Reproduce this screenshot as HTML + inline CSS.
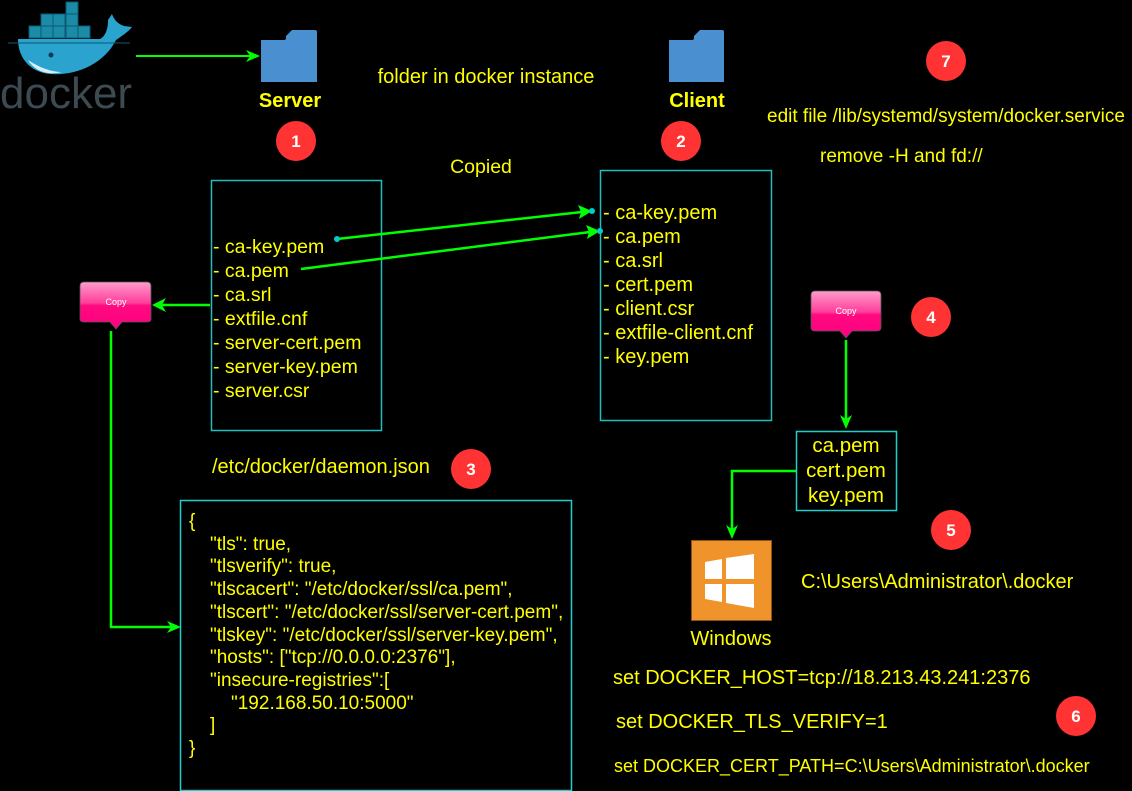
<!DOCTYPE html>
<html><head><meta charset="utf-8"><style>
html,body{margin:0;padding:0;background:#000;}
svg{display:block;}
text{font-family:"Liberation Sans",Arial,sans-serif;fill:#ffff00;}
.w{fill:#fff;font-weight:bold;}
</style></head><body>
<svg width="1132" height="791" viewBox="0 0 1132 791" xmlns="http://www.w3.org/2000/svg">
<defs>
<linearGradient id="pk" x1="0" y1="0" x2="0" y2="1"><stop offset="0" stop-color="#ff9ccc"/><stop offset="0.45" stop-color="#ff3d9a"/><stop offset="0.5" stop-color="#ff0a80"/><stop offset="1" stop-color="#ff0080"/></linearGradient>
</defs>
<rect width="1132" height="791" fill="#000"/>

<!-- docker logo -->
<g>
<g fill="#1b8ba8" stroke="#0b5a70" stroke-width="1">
<rect x="66" y="2" width="12" height="12"/>
<rect x="41" y="14" width="12" height="12"/><rect x="53" y="14" width="12" height="12"/><rect x="66" y="14" width="12" height="12"/>
<rect x="29" y="26" width="12" height="12"/><rect x="41" y="26" width="12" height="12"/><rect x="53" y="26" width="12" height="12"/><rect x="66" y="26" width="12" height="12"/><rect x="78" y="26" width="12" height="12"/>
</g>
<path d="M18,39 L100,39 C106,36 108,28 108,20 L112,14 C114,20 118,24 124,26 L132,27 C128,32 122,36 116,40 C104,64 76,76 50,74 C30,72 18,58 18,39 Z" fill="#2aa3cf"/>
<path d="M8,43 L130,43" stroke="#0b5a70" stroke-width="1"/>
<path d="M28,60 C40,68 52,72 62,72 C46,76 34,70 28,60 Z" fill="#d8eef5"/>
<circle cx="51" cy="55" r="2.5" fill="#0b3a50"/>
<text x="0" y="108" style="font-size:44px;fill:#3d4a52;">docker</text>
</g>

<line x1="136" y1="56" x2="252" y2="56" stroke="#00ff00" stroke-width="2"/>
<polygon points="260,56 246,50 250,56 246,62" fill="#00ff00"/>

<path d="M261,40 L261,82 L317,82 L317,32 Q317,30 315,30 L292,30 L286,36 L286,38 Q286,40 284,40 Z" fill="#4a90d0"/>
<path d="M669,40 L669,82 L724,82 L724,32 Q724,30 722,30 L700,30 L694,36 L694,38 Q694,40 692,40 Z" fill="#4a90d0"/>
<text x="290" y="107" text-anchor="middle" style="font-size:20px;font-weight:bold;">Server</text>
<text x="697" y="107" text-anchor="middle" style="font-size:20px;font-weight:bold;">Client</text>
<text x="486" y="83" text-anchor="middle" style="font-size:20px;">folder in docker instance</text>

<g fill="#ff3333">
<circle cx="296" cy="141" r="20"/><circle cx="681" cy="141" r="20"/><circle cx="946" cy="61" r="20"/>
<circle cx="471" cy="469" r="20"/><circle cx="931" cy="317" r="20"/><circle cx="951" cy="530" r="20"/><circle cx="1076" cy="716" r="20"/>
</g>
<g style="font-size:17px;" text-anchor="middle">
<text class="w" x="296" y="147">1</text><text class="w" x="681" y="147">2</text><text class="w" x="946" y="67">7</text>
<text class="w" x="471" y="475">3</text><text class="w" x="931" y="323">4</text><text class="w" x="951" y="536">5</text><text class="w" x="1076" y="722">6</text>
</g>

<text x="767" y="122" style="font-size:19px;">edit file /lib/systemd/system/docker.service</text>
<text x="820" y="162" style="font-size:19px;">remove -H and fd://</text>
<text x="481" y="173" text-anchor="middle" style="font-size:19.5px;">Copied</text>

<rect x="211.5" y="180.5" width="170" height="250" fill="none" stroke="#1fbfbf" stroke-width="1.5"/>
<g style="font-size:19.5px;">
<text x="213" y="253">- ca-key.pem</text>
<text x="213" y="277">- ca.pem</text>
<text x="213" y="301">- ca.srl</text>
<text x="213" y="325">- extfile.cnf</text>
<text x="213" y="349">- server-cert.pem</text>
<text x="213" y="373">- server-key.pem</text>
<text x="213" y="397">- server.csr</text>
</g>

<rect x="600.5" y="170.5" width="171" height="250" fill="none" stroke="#1fbfbf" stroke-width="1.5"/>
<g style="font-size:20px;">
<text x="603" y="219">- ca-key.pem</text>
<text x="603" y="243">- ca.pem</text>
<text x="603" y="267">- ca.srl</text>
<text x="603" y="291">- cert.pem</text>
<text x="603" y="315">- client.csr</text>
<text x="603" y="339">- extfile-client.cnf</text>
<text x="603" y="363">- key.pem</text>
</g>

<line x1="337" y1="239" x2="582" y2="212" stroke="#00ff00" stroke-width="2.5"/>
<polygon points="592,211 578,205 581,212 579,219" fill="#00ff00"/>
<circle cx="337" cy="239" r="3" fill="#00cccc"/>
<circle cx="592" cy="211" r="3" fill="#00cccc"/>
<line x1="301" y1="269" x2="590" y2="232" stroke="#00ff00" stroke-width="2.5"/>
<polygon points="600,231 586,225 589,232 587,239" fill="#00ff00"/>
<circle cx="600" cy="231" r="3" fill="#00cccc"/>

<path d="M84,282 L147,282 Q151,282 151,286 L151,319 Q151,322 147,322 L122,322 L116,329 L110,322 L84,322 Q80,322 80,319 L80,286 Q80,282 84,282 Z" fill="url(#pk)" stroke="#555" stroke-width="0.8"/>
<text x="116" y="305" text-anchor="middle" style="font-size:9px;fill:#fff;">Copy</text>
<line x1="210" y1="305" x2="160" y2="305" stroke="#00ff00" stroke-width="2.5"/>
<polygon points="152,305 166,298 162,305 166,312" fill="#00ff00"/>
<polyline points="111,331 111,627 172,627" fill="none" stroke="#00ff00" stroke-width="2.5"/>
<polygon points="181,627 167,621 171,627 167,633" fill="#00ff00"/>

<path d="M815,291 L877,291 Q881,291 881,295 L881,327 Q881,331 877,331 L852,331 L846,338 L840,331 L815,331 Q811,331 811,327 L811,295 Q811,291 815,291 Z" fill="url(#pk)" stroke="#555" stroke-width="0.8"/>
<text x="846" y="314" text-anchor="middle" style="font-size:9px;fill:#fff;">Copy</text>
<line x1="846" y1="340" x2="846" y2="420" stroke="#00ff00" stroke-width="2.5"/>
<polygon points="846,429 840,415 846,419 852,415" fill="#00ff00"/>

<rect x="796.5" y="431.5" width="100" height="79" fill="none" stroke="#1fcfcf" stroke-width="1.5"/>
<g style="font-size:20.5px;" text-anchor="middle">
<text x="846" y="452">ca.pem</text>
<text x="846" y="477">cert.pem</text>
<text x="846" y="502">key.pem</text>
</g>
<polyline points="796,471 732,471 732,530" fill="none" stroke="#00ff00" stroke-width="2.5"/>
<polygon points="732,539 726,525 732,529 738,525" fill="#00ff00"/>

<rect x="691.5" y="540.5" width="80" height="80" fill="#f0932b" stroke="#8a5418" stroke-width="1"/>
<g fill="#fff">
<polygon points="705,562 722,559 722,579 705,579"/>
<polygon points="726,558 754,554 754,579 726,579"/>
<polygon points="705,584 722,584 722,602 705,599"/>
<polygon points="726,584 754,584 754,608 726,603"/>
</g>
<text x="731" y="645" text-anchor="middle" style="font-size:20px;">Windows</text>
<text x="801" y="588" style="font-size:20px;">C:\Users\Administrator\.docker</text>

<text x="212" y="473" style="font-size:20px;">/etc/docker/daemon.json</text>

<rect x="180.5" y="500.5" width="391" height="290" fill="none" stroke="#1fcfcf" stroke-width="1.5"/>
<g style="font-size:19px;">
<text x="189" y="527">{</text>
<text x="210" y="550">"tls": true,</text>
<text x="210" y="572">"tlsverify": true,</text>
<text x="210" y="595">"tlscacert": "/etc/docker/ssl/ca.pem",</text>
<text x="210" y="618">"tlscert": "/etc/docker/ssl/server-cert.pem",</text>
<text x="210" y="641">"tlskey": "/etc/docker/ssl/server-key.pem",</text>
<text x="210" y="663">"hosts": ["tcp://0.0.0.0:2376"],</text>
<text x="210" y="686">"insecure-registries":[</text>
<text x="231" y="709">"192.168.50.10:5000"</text>
<text x="210" y="731">]</text>
<text x="189" y="754">}</text>
</g>

<text x="613" y="684" style="font-size:20px;">set DOCKER_HOST=tcp://18.213.43.241:2376</text>
<text x="616" y="728" style="font-size:20px;">set DOCKER_TLS_VERIFY=1</text>
<text x="614" y="772" style="font-size:18px;">set DOCKER_CERT_PATH=C:\Users\Administrator\.docker</text>
</svg>
</body></html>
